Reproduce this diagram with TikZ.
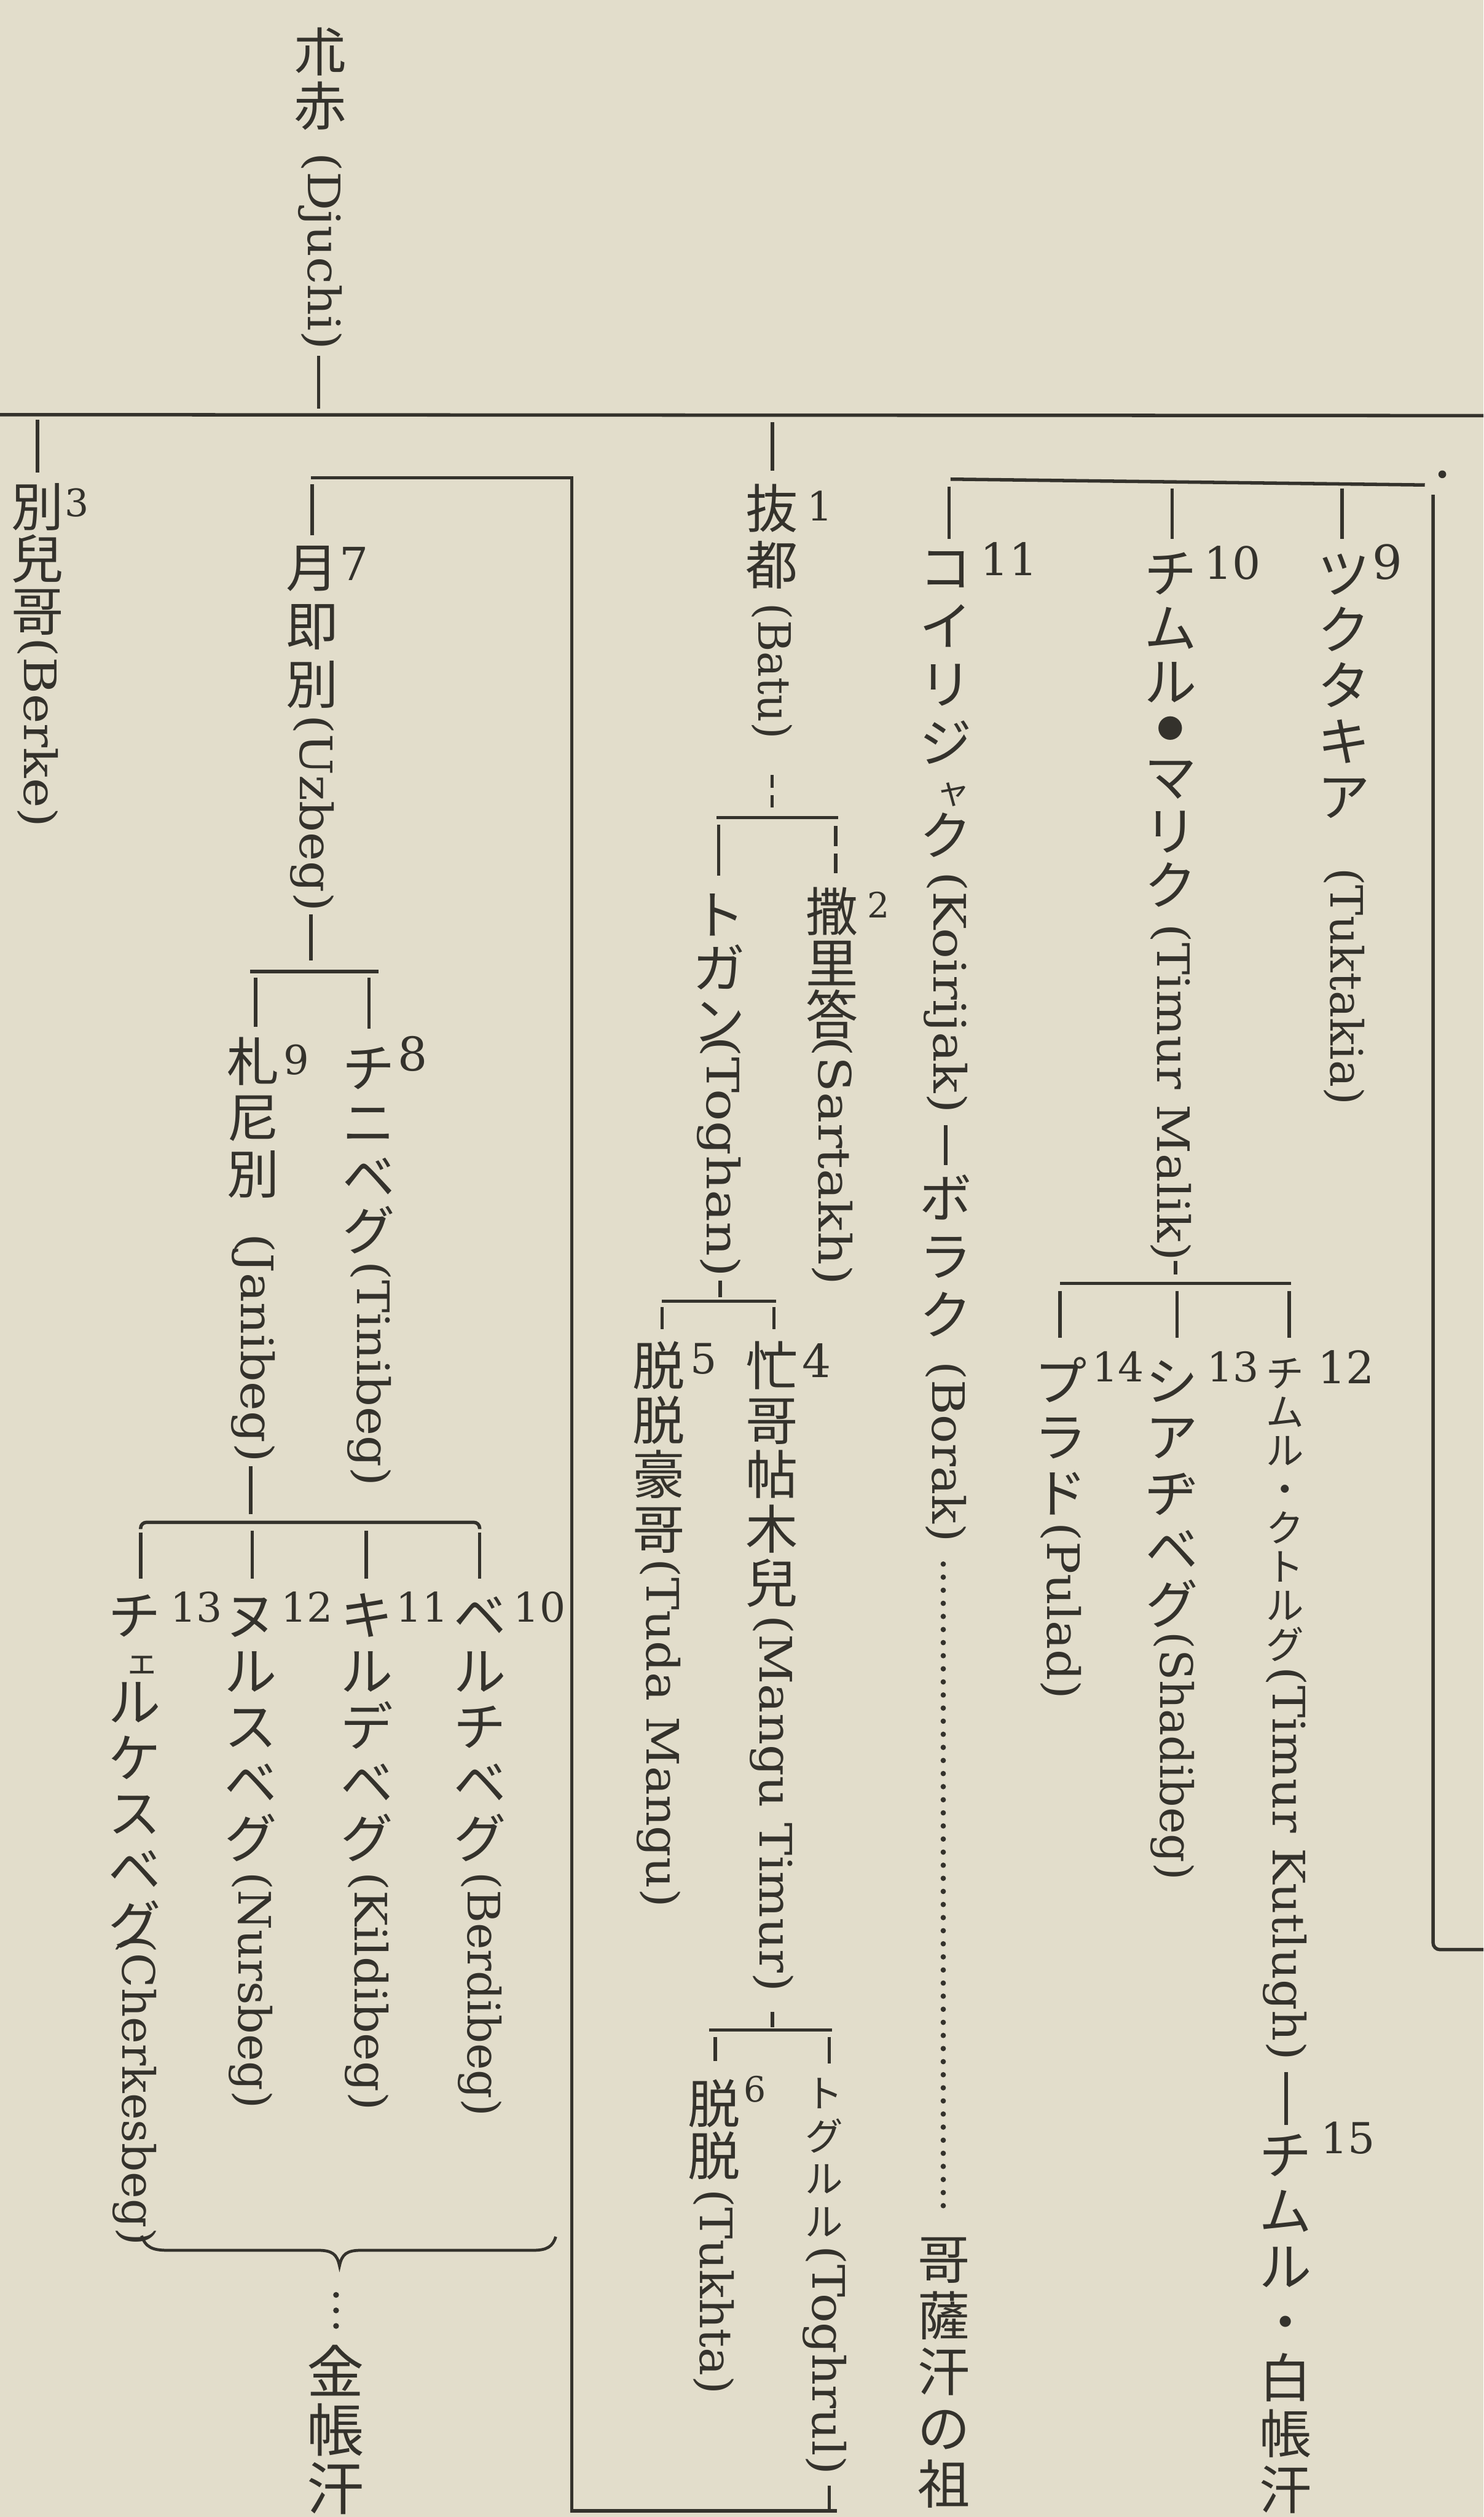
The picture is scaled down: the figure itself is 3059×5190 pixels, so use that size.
\documentclass[tikz,border=0pt]{standalone}
\usepackage{fontspec}
\usepackage{graphicx}
\newfontfamily\cjk{Noto Sans CJK JP}
\newfontfamily\latf{DejaVu Serif}
\definecolor{paper}{RGB}{226,221,203}
\definecolor{ink}{RGB}{52,50,44}
\newlength\pitch
\newcommand\cslot[1]{\hbox to\pitch{\hss\vrule height\dimexpr.5\pitch+.38em\relax depth\dimexpr.5\pitch-.38em\relax width0pt #1\hss}}
\ExplSyntaxOn
\NewDocumentCommand\vkan{m}{\tl_map_inline:nn{#1}{\cslot{##1}}}
\ExplSyntaxOff
\newcommand\colv[2][112]{\vbox{\offinterlineskip\setlength\pitch{#1pt}#2}}
\newcommand\hslot[1]{\hbox to\pitch{\hss\vrule height.55\pitch depth0pt width0pt\kern.25\pitch\scalebox{.65}{#1}\hss}}
\newcommand\dslot{\hbox to\pitch{\hss\vrule height.55\pitch depth.2\pitch width0pt\scalebox{.5}{●}\hss}}
\newcommand\latn[2]{\resizebox{#1pt}{\height}{#2}}
\newcommand\tick[4]{\coordinate (#1a) at (#2,#3); \coordinate (#1b) at (#2,#4); \draw[tk] (#1a) -- (#1b);}
\tikzset{
 ln/.style={draw=ink, line width=7pt},
 tk/.style={draw=ink, line width=7pt},
 cj/.style={anchor=north, inner sep=0pt, text=ink, font=\cjk\fontsize{108}{108}\selectfont},
 cjs/.style={anchor=north, inner sep=0pt, text=ink, font=\cjk\fontsize{78}{78}\selectfont},
 lt/.style={rotate=-90, anchor=west, inner sep=0pt, text=ink, font=\latf\fontsize{92}{92}\selectfont},
 nm/.style={anchor=north west, inner sep=0pt, text=ink, font=\latf\fontsize{#1}{#1}\selectfont},
 nm/.default=84
}
\begin{document}
\begin{tikzpicture}[x=1pt,y=-1pt]
\useasboundingbox (0,0) rectangle (3059,5190);
\fill[paper] (0,0) rectangle (3059,5190);

% root
\node[cj] (djuchiJ) at (660,50) {\colv[112]{\vkan{朮赤}}};
\node[lt] (djuchiL) at (660,315) {\latn{406}{(Djuchi)}};
\tick{root}{657}{734}{842}
\coordinate (mainL) at (0,855); \coordinate (mainR) at (3059,857);
\draw[ln] (mainL) -- (mainR);

% Berke
\tick{berke}{77}{866}{974}
\node[cj] (berkeJ) at (78,990) {\colv[108]{\vkan{別兒哥}}};
\node[nm=78] (berkeN) at (133,1007) {3};
\node[lt] (berkeL) at (78,1314) {\latn{392}{(Berke)}};

% Uzbeg line
\coordinate (uzTop) at (641,985); \coordinate (vTop) at (1179,985);
\coordinate (vBot) at (1179,5177); \coordinate (tgEnd) at (1726,5177);
\draw[ln] (uzTop) -- (vTop) -- (vBot) -- (tgEnd);
\tick{uzbeg}{644}{999}{1103}
\node[cj] (uzbegJ) at (644,1110) {\colv[120]{\vkan{月即別}}};
\node[nm=94] (uzbegN) at (700,1128) {7};
\node[lt] (uzbegL) at (644,1474) {\latn{406}{(Uzbeg)}};
\tick{uzbegB}{641}{1885}{1980}
\coordinate (uzBrL) at (516,2003); \coordinate (uzBrR) at (780,2003);
\draw[ln] (uzBrL) -- (uzBrR);
\tick{janibeg}{527}{2016}{2117}
\tick{tinibeg}{761}{2016}{2121}

% Janibeg
\node[cj] (janibegJ) at (522,2130) {\colv[116]{\vkan{札尼別}}};
\node[nm=83] (janibegN) at (585,2154) {9};
\node[lt] (janibegL) at (522,2544) {\latn{471}{(Janibeg)}};
\tick{janibegB}{517}{3023}{3122}
\coordinate (jbL) at (290,3153); \coordinate (jbR) at (989,3153);
\draw[ln, rounded corners=12pt] (jbL) -- (290,3139) -- (989,3139) -- (jbR);

% Tinibeg
\node[cj] (tinibegJ) at (761,2145) {\colv[112]{\vkan{チニベグ}}};
\node[nm=96] (tinibegN) at (820,2137) {8};
\node[lt] (tinibegL) at (761,2600) {\latn{464}{(Tinibeg)}};

% Janibeg's sons
\tick{cherk}{290}{3160}{3255}
\tick{nurs}{520}{3156}{3255}
\tick{kild}{755}{3156}{3255}
\tick{berd}{989}{3160}{3255}
\node[cj] (cherkJ) at (278,3272) {\colv[115]{\vkan{チ}\hslot{ェ}\vkan{ルケスベグ}}};
\node[nm] (cherkN) at (351,3282) {13};
\node[lt] (cherkL) at (278,3991) {\latn{639}{(Cherkesbeg)}};
\node[cj] (nursJ) at (517,3272) {\colv[115]{\vkan{ヌルスベグ}}};
\node[nm] (nursN) at (579,3282) {12};
\node[lt] (nursL) at (517,3860) {\latn{488}{(Nursbeg)}};
\node[cj] (kildJ) at (756,3272) {\colv[115]{\vkan{キルデベグ}}};
\node[nm] (kildN) at (817,3282) {11};
\node[lt] (kildL) at (756,3860) {\latn{492}{(Kildibeg)}};
\node[cj] (berdJ) at (990,3272) {\colv[115]{\vkan{ベルチベグ}}};
\node[nm] (berdN) at (1059,3282) {10};
\node[lt] (berdL) at (990,3860) {\latn{504}{(Berdibeg)}};

% brace to Golden Horde
\coordinate (brL) at (292,4610); \coordinate (brR) at (1146,4612); \coordinate (brC) at (700,4672);
\draw[ln, line width=6pt] (brL) .. controls (300,4634) and (315,4640) .. (345,4640) -- (655,4640) .. controls (685,4640) and (695,4648) .. (brC) .. controls (705,4648) and (715,4640) .. (745,4640) -- (1100,4640) .. controls (1128,4640) and (1140,4632) .. (brR);
\fill[ink] (693,4732) circle[radius=6pt];
\fill[ink] (693,4764) circle[radius=6pt];
\fill[ink] (693,4796) circle[radius=6pt];
\node[cj, font=\cjk\fontsize{118}{118}\selectfont] (kinJ) at (692,4830) {\colv[120]{\vkan{金帳汗}}};

% Batu
\tick{batu}{1593}{871}{970}
\node[cj] (batuJ) at (1592,990) {\colv[116]{\vkan{抜都}}};
\node[nm=83] (batuN) at (1664,1012) {1};
\node[lt] (batuL) at (1592,1244) {\latn{280}{(Batu)}};
\tick{batuDa}{1592}{1598}{1625}
\tick{batuDb}{1592}{1640}{1665}
\coordinate (bbL) at (1478,1686); \coordinate (bbR) at (1728,1686);
\draw[ln] (bbL) -- (bbR);
\tick{toghan}{1482}{1700}{1806}
\tick{sartDa}{1723}{1703}{1745}
\tick{sartDb}{1723}{1760}{1800}
\node[cj] (sartJ) at (1716,1825) {\colv[107]{\vkan{撒里答}}};
\node[nm=72] (sartN) at (1788,1839) {2};
\node[lt] (sartL) at (1716,2137) {\latn{513}{(Sartakh)}};
\node[cj] (toghanJ) at (1482,1830) {\colv[110]{\vkan{トガン}}};
\node[lt] (toghanL) at (1482,2137) {\latn{496}{(Toghan)}};
\tick{toghanB}{1485}{2640}{2675}
\coordinate (tgL) at (1365,2683); \coordinate (tgR) at (1600,2683);
\draw[ln] (tgL) -- (tgR);
\tick{tuda}{1365}{2695}{2741}
\tick{mangu}{1596}{2695}{2741}
\node[cj] (tudaJ) at (1358,2760) {\colv[112]{\vkan{脱脱豪哥}}};
\node[nm=86] (tudaN) at (1423,2770) {5};
\node[lt] (tudaL) at (1358,3214) {\latn{719}{(Tuda Mangu)}};
\node[cj] (manguJ) at (1592,2760) {\colv[112]{\vkan{忙哥帖木兒}}};
\node[nm=94] (manguN) at (1654,2770) {4};
\node[lt] (manguL) at (1592,3330) {\latn{777}{(Mangu Timur)}};
\tick{manguB}{1593}{4149}{4180}
\coordinate (mgL) at (1462,4186); \coordinate (mgR) at (1716,4186);
\draw[ln] (mgL) -- (mgR);
\tick{tukhta}{1475}{4200}{4250}
\tick{toghrul}{1710}{4200}{4255}
\node[cj] (tukhtaJ) at (1472,4284) {\colv[107]{\vkan{脱脱}}};
\node[nm=72] (tukhtaN) at (1534,4281) {6};
\node[lt] (tukhtaL) at (1472,4514) {\latn{423}{(Tukhta)}};
\node[cjs] (toghrulJ) at (1700,4272) {\colv[88]{\vkan{トグルル}}};
\node[lt] (toghrulL) at (1700,4630) {\latn{473}{(Toghrul)}};
\tick{toghrulB}{1710}{5125}{5177}

% Koirijak / Timur Malik / Tuktakia group
\coordinate (kgL) at (1960,988); \coordinate (kgR) at (2938,1000);
\draw[ln] (kgL) -- (kgR);
\coordinate (rvT) at (2955,1020); \coordinate (rvE) at (3059,4020);
\draw[ln, rounded corners=14pt] (rvT) -- (2955,4020) -- (rvE);
\fill[ink] (2974,978) circle[radius=8pt];
\tick{koir}{1957}{1003}{1111}
\tick{tmalik}{2417}{1007}{1111}
\tick{tukt}{2767}{1007}{1111}
\node[cj] (koirJ) at (1950,1110) {\colv[120]{\vkan{コイリジ}\hslot{ャ}\vkan{ク}}};
\node[nm=92] (koirN) at (2022,1118) {11};
\node[lt] (koirL) at (1950,1797) {\latn{498}{(Koirijak)}};
\tick{koirB}{1950}{2320}{2403}
\node[cj] (borakJ) at (1950,2410) {\colv[120]{\vkan{ボラク}}};
\node[lt] (borakL) at (1950,2807) {\latn{373}{(Borak)}};
\coordinate (bdA) at (1945,3225); \coordinate (bdB) at (1945,4565);
\draw[ink, line width=11pt, line cap=round, dash pattern=on 0pt off 27pt] (bdA) -- (bdB);
\node[cj] (kozakJ) at (1947,4600) {\colv[116]{\vkan{哥薩汗の祖}}};

\node[cj] (tmalikJ) at (2414,1125) {\colv[112]{\vkan{チムル}\dslot\vkan{マリク}}};
\node[nm=92] (tmalikN) at (2482,1126) {10};
\node[lt] (tmalikL) at (2414,1905) {\latn{695}{(Timur Malik)}};
\tick{tmalikB}{2424}{2600}{2628}
\coordinate (tmL) at (2186,2646); \coordinate (tmR) at (2662,2646);
\draw[ln] (tmL) -- (tmR);
\tick{pulad}{2186}{2662}{2758}
\tick{shad}{2427}{2662}{2758}
\tick{tkut}{2658}{2662}{2758}

\node[cj] (tuktJ) at (2771,1125) {\colv[115]{\vkan{ツクタキア}}};
\node[nm=97] (tuktN) at (2830,1122) {9};
\node[lt] (tuktL) at (2771,1789) {\latn{489}{(Tuktakia)}};

\node[cj] (puladJ) at (2187,2790) {\colv[115]{\vkan{プラド}}};
\node[nm] (puladN) at (2252,2786) {14};
\node[lt] (puladL) at (2187,3139) {\latn{365}{(Pulad)}};
\node[cj] (shadJ) at (2417,2790) {\colv[115]{\vkan{シアヂベグ}}};
\node[nm] (shadN) at (2489,2786) {13};
\node[lt] (shadL) at (2417,3365) {\latn{512}{(Shadibeg)}};
\node[cjs] (tkutJ) at (2650,2790) {\colv[80]{\vkan{チムル・クトルグ}}};
\node[nm=92] (tkutN) at (2717,2784) {12};
\node[lt] (tkutL) at (2650,3437) {\latn{811}{(Timur Kutlugh)}};
\tick{tkutB}{2652}{4273}{4381}
\node[cj] (t15J) at (2651,4385) {\colv[115]{\vkan{チムル・白帳汗}}};
\node[nm=88] (t15N) at (2723,4375) {15};
\end{tikzpicture}
\end{document}
